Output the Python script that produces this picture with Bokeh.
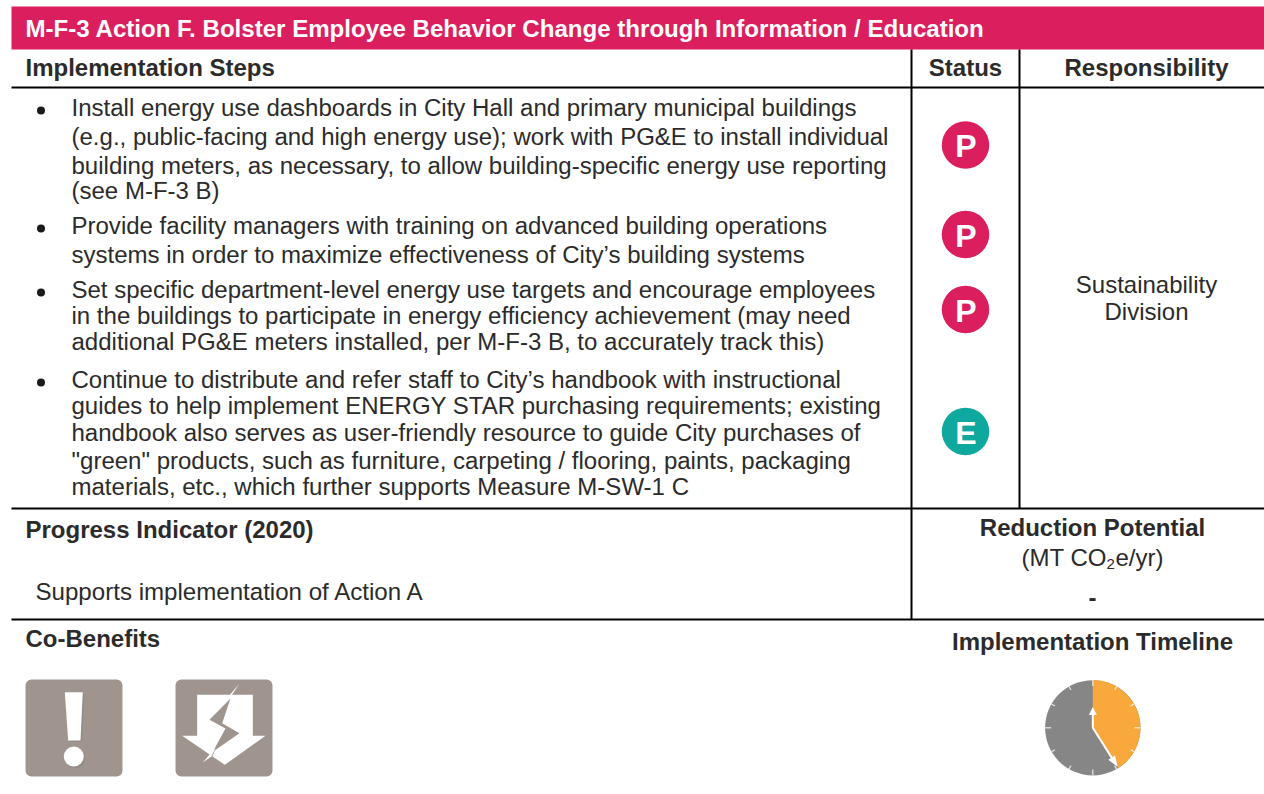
from math import pi, sin, cos
from bokeh.plotting import figure
from bokeh.models import Range1d
from bokeh.core.properties import value
from bokeh.embed import file_html
from bokeh.resources import INLINE

TITLE = "M-F-3 Action F. Bolster Employee Behavior Change through Information / Education"
HEADERS = ["Implementation Steps", "Status", "Responsibility"]
STEPS = [
    ["Install energy use dashboards in City Hall and primary municipal buildings",
     "(e.g., public-facing and high energy use); work with PG&E to install individual",
     "building meters, as necessary, to allow building-specific energy use reporting",
     "(see M-F-3 B)"],
    ["Provide facility managers with training on advanced building operations",
     "systems in order to maximize effectiveness of City\u2019s building systems"],
    ["Set specific department-level energy use targets and encourage employees",
     "in the buildings to participate in energy efficiency achievement (may need",
     "additional PG&E meters installed, per M-F-3 B, to accurately track this)"],
    ["Continue to distribute and refer staff to City\u2019s handbook with instructional",
     "guides to help implement ENERGY STAR purchasing requirements; existing",
     "handbook also serves as user-friendly resource to guide City purchases of",
     "\"green\" products, such as furniture, carpeting / flooring, paints, packaging",
     "materials, etc., which further supports Measure M-SW-1 C"],
]
STEP_Y = [[108, 137, 166, 191], [226, 255], [290, 316, 342], [380, 406, 433, 461, 487]]
STATUS = ["P", "P", "P", "E"]
STATUS_Y = [144.5, 234, 309, 431]
STATUS_COLORS = {"P": "#DB1F5E", "E": "#0FA89E"}
TIMELINE_DONE_PCT = 41

PINK, INK = "#DB1F5E", "#2B2B2B"
TAUPE, GREY, ORANGE = "#A0958E", "#868686", "#F9A83B"
FONT = value("Liberation Sans")
W, H = 1264, 794
LEFT, RIGHT = 11, 1264

p = figure(width=W, height=H, x_range=Range1d(0, W), y_range=Range1d(H, 0),
           output_backend="svg", toolbar_location=None, min_border=0,
           x_axis_type=None, y_axis_type=None, outline_line_color=None)
p.grid.visible = False


def txt(x, y, s, size=24, color=INK, bold=False, align="left"):
    p.text([x], [y - 1], text=[s], text_font=FONT, text_font_size=f"{size}px", text_color=color,
           text_align=align, text_baseline="middle",
           text_font_style="bold" if bold else "normal")


p.quad(left=LEFT, right=RIGHT, top=6, bottom=49, fill_color=PINK, line_color=None)
txt(25, 28.5, TITLE, 24.08, "white", True)

for xs, ys in [((LEFT, RIGHT), (87, 87)), ((LEFT, RIGHT), (508, 508)), ((LEFT, RIGHT), (619, 619)),
               ((911, 911), (49, 619)), ((1019, 1019), (49, 508))]:
    p.line(list(xs), list(ys), line_color="black", line_width=2)

txt(25, 67.5, HEADERS[0], 24, INK, True)
txt(965, 67.5, HEADERS[1], 24, INK, True, "center")
txt(1146, 67.5, HEADERS[2], 24, INK, True, "center")

for lines, ys in zip(STEPS, STEP_Y):
    p.scatter([40.5], [ys[0] + 2], size=8, marker="circle", fill_color="#1A1A1A", line_color=None)
    for line, y in zip(lines, ys):
        txt(71, y, line, 24.03)

for s, y in zip(STATUS, STATUS_Y):
    p.scatter([965], [y], size=47.5, marker="circle", fill_color=STATUS_COLORS[s], line_color=None)
    txt(965.5, y + 2, s, 32, "white", True, "center")

txt(1146, 285, "Sustainability", 24, INK, False, "center")
txt(1146, 312, "Division", 24, INK, False, "center")

txt(25, 529.5, "Progress Indicator (2020)", 24, INK, True)
txt(35, 592, "Supports implementation of Action A", 24.1)
txt(1092, 528, "Reduction Potential", 24, INK, True, "center")
txt(1021, 558, "(MT CO", 24)
txt(1106, 564, "2", 15)
txt(1115, 558, "e/yr)", 24)
txt(1092, 598, "-", 24, INK, True, "center")

txt(25, 639, "Co-Benefits", 24, INK, True)
txt(1092, 642, "Implementation Timeline", 24, INK, True, "center")

# icon 1
p.quad(left=25, right=122, top=679, bottom=776, fill_color=TAUPE, line_color=None, border_radius=6)
p.patch([66, 84, 81.5, 69.5], [693.5, 693.5, 741.5, 741.5], fill_color="#8F847D", line_color=None, fill_alpha=0.6)
p.circle([75], [757.5], radius=10, fill_color="#8F847D", line_color=None, fill_alpha=0.6)
p.patch([64.3, 82.3, 80, 67.7], [691.7, 691.7, 740, 740], fill_color="white", line_color=None)
p.circle([73.3], [756], radius=10, fill_color="white", line_color=None)


# icon 2, points given in px relative to the icon corner
def ico(points):
    return [175 + a / 3 for a, _ in points], [676 + b / 3 for _, b in points]


p.quad(left=175, right=272, top=679, bottom=776, fill_color=TAUPE, line_color=None, border_radius=6)
xs, ys = ico([(65, 55), (232, 55), (232, 178), (270, 178), (148, 265), (20, 178), (65, 178)])
p.patch(xs, ys, fill_color="white", line_color=None)
xs, ys = ico([(165, 66), (102, 130), (150, 156), (112, 226), (192, 170), (140, 140)])
p.patch(xs, ys, fill_color=TAUPE, line_color=None)
xs, ys = ico([(112, 226), (103, 242), (110, 240), (118, 224)])
p.patch(xs, ys, fill_color=TAUPE, line_color=None)
xs, ys = ico([(192, 22), (150, 70), (166, 60)])
p.patch(xs, ys, fill_color="white", line_color=None)
xs, ys = ico([(82, 258), (120, 212), (108, 240)])
p.patch(xs, ys, fill_color="white", line_color=None)

# clock
cx, cy, r = 1092.3, 727.3, 47.7
a = TIMELINE_DONE_PCT / 100 * 2 * pi
p.circle([cx], [cy], radius=r, fill_color=GREY, line_color=None)
p.wedge([cx], [cy], radius=r, start_angle=pi / 2 - a, end_angle=pi / 2, direction="anticlock",
        fill_color=ORANGE, line_color=None)
for i in range(12):
    t = i * pi / 6
    ln = 6 if i % 3 == 0 else 4
    p.line([cx + r * sin(t), cx + (r - ln) * sin(t)], [cy - r * cos(t), cy - (r - ln) * cos(t)],
           line_color="white", line_width=1.2, line_alpha=0.8)
# hands
p.line([cx, cx], [cy, 712], line_color="white", line_width=2)
p.patch([cx - 4, cx + 4, cx], [714.5, 714.5, 706.5], fill_color="white", line_color=None)
tip_x, tip_y = cx + r * sin(a) * 0.97, cy - r * cos(a) * 0.97
p.line([cx, tip_x - 2], [cy, tip_y - 3], line_color="white", line_width=2)
ux, uy = sin(a), -cos(a)
bx, by = tip_x - 11 * ux, tip_y - 11 * uy
p.patch([tip_x, bx + 4 * uy, bx - 4 * uy], [tip_y, by - 4 * ux, by + 4 * ux], fill_color="white", line_color=None)

open("out.html", "w").write(file_html(p, INLINE))
